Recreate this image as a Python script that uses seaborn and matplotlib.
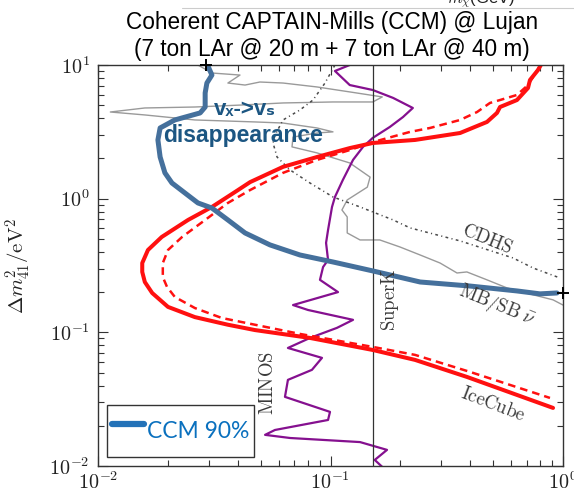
import matplotlib
matplotlib.use("Agg")
import matplotlib.pyplot as plt
import seaborn as sns
import pandas as pd
from matplotlib.lines import Line2D
from matplotlib.ticker import NullFormatter, FixedLocator, FixedFormatter

# ---------------- data ----------------
# CCM 90% sensitivity (thick blue)
ccm_x = [0.0297, 0.0309, 0.0294, 0.0289, 0.0289, 0.0275, 0.0214, 0.0185, 0.0181, 0.0185,
         0.0194, 0.0208, 0.0237, 0.0269, 0.0309, 0.0362, 0.0429, 0.0549, 0.0739, 0.1025,
         0.152, 0.243, 0.398, 0.634, 0.796, 0.942]
ccm_y = [9.83, 8.41, 7.33, 6.18, 4.85, 4.38, 3.88, 3.38, 2.75, 2.05,
         1.56, 1.31, 1.10, 0.929, 0.851, 0.693, 0.554, 0.451, 0.379, 0.336,
         0.288, 0.238, 0.222, 0.204, 0.194, 0.197]

# IceCube (red solid)
ice_x = [0.803, 0.781, 0.721, 0.707, 0.634, 0.536, 0.520, 0.471, 0.361, 0.231,
         0.152, 0.121, 0.0875, 0.0625, 0.0451, 0.0388, 0.0309, 0.0244, 0.0188, 0.0164,
         0.0155, 0.0155, 0.0159, 0.0171, 0.0200, 0.0261, 0.0362, 0.0473, 0.0816, 0.152,
         0.231, 0.386, 0.906]
ice_y = [10.0, 9.18, 7.72, 6.73, 5.47, 4.85, 4.38, 3.75, 3.10, 2.75,
         2.61, 2.39, 2.05, 1.73, 1.33, 1.12, 0.867, 0.693, 0.517, 0.413,
         0.330, 0.283, 0.238, 0.197, 0.155, 0.130, 0.114, 0.104, 0.0908, 0.0738,
         0.0622, 0.0464, 0.0272]

# IceCube (red dashed)
iced_x = [0.796, 0.707, 0.634, 0.536, 0.485, 0.427, 0.361, 0.268, 0.220, 0.152,
          0.121, 0.0875, 0.0625, 0.0451, 0.0362, 0.0289, 0.0230, 0.0200, 0.0190, 0.0190,
          0.0198, 0.0214, 0.0261, 0.0341, 0.0473, 0.0739, 0.152, 0.231, 0.398, 0.879]
iced_y = [9.83, 7.08, 5.97, 5.47, 5.20, 4.45, 3.88, 3.38, 3.16, 2.65,
          2.31, 1.95, 1.56, 1.16, 0.929, 0.693, 0.517, 0.413, 0.330, 0.259,
          0.219, 0.184, 0.152, 0.128, 0.114, 0.0973, 0.0778, 0.0678, 0.0506, 0.0323]

# MINOS (purple)
minos_x = [0.121, 0.1045, 0.121, 0.152, 0.186, 0.226, 0.205, 0.180, 0.152, 0.138,
           0.125, 0.113, 0.1045, 0.1015, 0.0976, 0.0957, 0.0976, 0.0929, 0.0901, 0.1077,
           0.0690, 0.0800, 0.125, 0.1066, 0.0816, 0.0656, 0.0919, 0.0832, 0.0656, 0.0637,
           0.0995, 0.0976, 0.0577, 0.0523, 0.0670, 0.134, 0.175, 0.155, 0.167]
minos_y = [10.0, 9.02, 7.08, 6.50, 5.67, 4.77, 4.08, 3.44, 2.85, 2.44,
           1.95, 1.38, 1.03, 0.867, 0.583, 0.467, 0.348, 0.308, 0.247, 0.200,
           0.160, 0.147, 0.124, 0.108, 0.0908, 0.0764, 0.0644, 0.0524, 0.0441, 0.0329,
           0.0254, 0.0221, 0.0186, 0.0171, 0.0162, 0.0151, 0.0132, 0.0111, 0.00984]

# MB/SB anti-nu (gray)
mbsb_x = [0.0269, 0.0309, 0.0408, 0.0362, 0.0429, 0.0497, 0.0625, 0.0875, 0.121, 0.167,
          0.152, 0.1025, 0.0625, 0.0416, 0.0261, 0.0159, 0.0113, 0.0159, 0.0261, 0.0473,
          0.0625, 0.0875, 0.1025, 0.0875, 0.0690, 0.0683, 0.0875, 0.121, 0.148, 0.144,
          0.118, 0.112, 0.118, 0.118, 0.134, 0.163, 0.199, 0.243, 0.296, 0.350,
          0.386, 0.471, 0.574, 0.743, 0.906, 1.0]
mbsb_y = [10.0, 8.71, 8.41, 7.33, 7.08, 7.46, 7.33, 6.85, 6.29, 5.77,
          5.29, 5.29, 5.20, 5.02, 4.85, 4.77, 4.45, 4.23, 3.88, 3.75,
          3.68, 3.38, 3.16, 3.10, 2.89, 2.44, 2.20, 1.85, 1.45, 1.22,
          0.978, 0.823, 0.730, 0.554, 0.491, 0.491, 0.435, 0.379, 0.330, 0.278,
          0.283, 0.247, 0.215, 0.191, 0.175, 0.160]

# CDHS (dash-dot)
cdhs_x = [0.1045, 0.0947, 0.0841, 0.0739, 0.0625, 0.0577, 0.0566, 0.0589, 0.0670, 0.0816,
          0.1025, 0.134, 0.186, 0.220, 0.361, 0.610, 0.743, 0.971]
cdhs_y = [10.0, 7.33, 5.47, 4.61, 3.88, 2.99, 2.61, 2.05, 1.64, 1.31,
          1.03, 0.867, 0.693, 0.604, 0.483, 0.360, 0.303, 0.255]

# SuperK vertical bound
superk_x = 0.153

# end markers of the CCM curve
mark_x = [0.0291, 1.0]
mark_y = [10.0, 0.197]

xtick_vals = [0.01, 0.1, 1.0]
xtick_labels = [r"$10^{-2}$", r"$10^{-1}$", r"$10^{0}$"]
ytick_vals = [0.01, 0.1, 1.0, 10.0]
ytick_labels = [r"$10^{-2}$", r"$10^{-1}$", r"$10^{0}$", r"$10^{1}$"]

# ---------------- style ----------------
sns.set_style("ticks")
plt.rcParams["font.family"] = ["Liberation Sans", "DejaVu Sans"]
plt.rcParams["mathtext.fontset"] = "cm"
plt.rcParams["lines.scale_dashes"] = False

fig = plt.figure(figsize=(5.74, 5.01), dpi=100)
ax = fig.add_axes([98 / 574, 35 / 501, 465 / 574, 401 / 501])
ax.set_xscale("log")
ax.set_yscale("log")


def draw(x, y, **kw):
    df = pd.DataFrame({"x": x, "y": y})
    sns.lineplot(data=df, x="x", y="y", sort=False, estimator=None, ax=ax, **kw)
    return ax.lines[-1]


draw(mbsb_x, mbsb_y, color="#9a9a9a", linewidth=1.0)
l = draw(cdhs_x, cdhs_y, color="#4a4a4a", linewidth=1.1)
l.set_dashes((2.0, 2.4, 0.8, 2.4))
draw(minos_x, minos_y, color="#85108f", linewidth=1.6)
ax.axvline(superk_x, color="#333333", linewidth=0.9)
l = draw(iced_x, iced_y, color="#ff1010", linewidth=1.8)
l.set_dashes((5.5, 3.6))
draw(ice_x, ice_y, color="#ff1010", linewidth=2.9)
draw(ccm_x, ccm_y, color="#45709c", linewidth=3.6)
ax.plot(mark_x, mark_y, linestyle="none", marker="+", color="black",
        markersize=9, markeredgewidth=1.4, clip_on=False, zorder=5)

ax.set_xlim(0.01, 1.0)
ax.set_ylim(0.01, 10.0)

ax.xaxis.set_major_locator(FixedLocator(xtick_vals))
ax.xaxis.set_major_formatter(FixedFormatter(xtick_labels))
ax.yaxis.set_major_locator(FixedLocator(ytick_vals))
ax.yaxis.set_major_formatter(FixedFormatter(ytick_labels))
ax.xaxis.set_minor_formatter(NullFormatter())
ax.yaxis.set_minor_formatter(NullFormatter())

ax.tick_params(which="both", direction="in", top=True, right=True,
               color="#333333", width=0.8, labelsize=14.5, labelcolor="#222222")
ax.tick_params(which="major", length=7)
ax.tick_params(which="minor", length=4)
ax.tick_params(axis="x", which="major", pad=4)
ax.tick_params(axis="y", which="major", pad=6)
for s in ax.spines.values():
    s.set_color("#333333")
    s.set_linewidth(1.0)

ax.set_xlabel("")
ax.set_ylabel(r"$\Delta m^2_{41}/\mathrm{eV}^2$", fontsize=15, color="#222222")
ax.yaxis.set_label_coords(-0.14, 0.5)

# curve labels
lab = dict(transform=ax.transAxes, ha="center", va="center", color="#3a3a3a", fontsize=13.5)
ax.text(0.837, 0.564, r"$\mathrm{CDHS}$", rotation=-22, **lab)
ax.text(0.858, 0.401, r"$\mathrm{MB/SB}\ \bar{\nu}$", rotation=-22, **lab)
ax.text(0.849, 0.152, r"$\mathrm{IceCube}$", rotation=-21, **lab)
ax.text(0.628, 0.414, r"$\mathrm{SuperK}$", rotation=90, **lab)
ax.text(0.366, 0.207, r"$\mathrm{MINOS}$", rotation=90, **lab)

# annotation
ax.text(0.316, 0.888, "vₓ->vₛ", transform=ax.transAxes, ha="center", va="center",
        color="#1c5682", fontsize=16, fontweight="bold",
        family=["Liberation Sans", "DejaVu Sans"])
ax.text(0.312, 0.823, "disappearance", transform=ax.transAxes, ha="center", va="center",
        color="#1c5682", fontsize=16.5, fontweight="bold")

# legend
leg = ax.legend(handles=[Line2D([0], [0], color="#2372b8", lw=4.5)], labels=["CCM 90%"],
                loc="lower left", bbox_to_anchor=(0.0194, 0.0224), borderaxespad=0,
                frameon=True, fancybox=False, framealpha=1, edgecolor="#333333",
                prop={"family": "Lato", "size": 16.5}, handlelength=1.4,
                handletextpad=0.15, borderpad=0.2, handleheight=2.5)
leg.get_frame().set_linewidth(1.0)
for t in leg.get_texts():
    t.set_color("#0a70be")

# title
fig.text(0.578, 0.956, "Coherent CAPTAIN-Mills (CCM) @ Lujan", ha="center", va="center",
         fontsize=16.3, color="black")
fig.text(0.578, 0.902, "(7 ton LAr @ 20 m + 7 ton LAr @ 40 m)", ha="center", va="center",
         fontsize=16.3, color="black")

# residue of the neighbouring panel at the very top
fig.text(0.838, 1.0, r"$m_\chi$(GeV)", ha="center", va="center", fontsize=12, color="#222222")
fig.add_artist(Line2D([182 / 574, 1.0], [1 - 8 / 501, 1 - 8 / 501], color="#cccccc", lw=0.8))

fig.savefig("out.png", dpi=100)
